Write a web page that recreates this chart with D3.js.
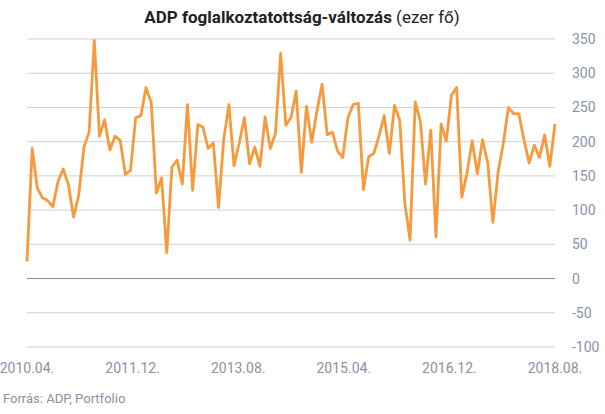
<!DOCTYPE html><html><head><meta charset="utf-8"><script src="https://cdn.jsdelivr.net/npm/d3@7"></script>
<style>body{margin:0;background:#fff}text{font-family:Roboto,sans-serif}</style></head><body><svg width="605" height="414"></svg><script>
const values=[25,190,132,118,114,105,142,160,137,90,122,192,214,348,208,232,188,208,202,152,158,235,238,279,257,125,147,38,163,173,138,254,129,225,221,190,198,104,
203,254,165,198,235,168,192,164,236,190,212,329,224,235,274,155,252,199,244,284,210,214,186,177,235,254,256,130,178,183,208,238,183,
253,231,110,56,258,229,138,217,61,226,201,268,279,119,154,201,153,203,169,82,155,197,250,241,241,203,169,195,177,210,164,226];
const xTickLabels=["2010.04.","2011.12.","2013.08.","2015.04.","2016.12.","2018.08."];
const yTicks=[-100,-50,0,50,100,150,200,250,300,350];
const svg=d3.select("svg");
const x=d3.scaleLinear().domain([0,values.length-1]).range([27,555]);
const y=d3.scaleLinear().domain([-100,350]).range([347,39]);
svg.selectAll(".g").data(yTicks).join("line").attr("x1",27).attr("x2",555).attr("y1",d=>y(d)).attr("y2",d=>y(d)).attr("stroke",d=>d===0?"#888":"#d0d0d0").attr("stroke-width",1);
svg.selectAll(".yl").data(yTicks).join("text").attr("x",572).attr("y",d=>y(d)+5).attr("font-size",14).attr("fill","#8793a6").text(d=>d);
const xp=d3.scaleLinear().domain([0,xTickLabels.length-1]).range([27,555]);
svg.selectAll(".xl").data(xTickLabels).join("text").attr("x",(d,i)=>xp(i)).attr("y",373).attr("text-anchor","middle").attr("font-size",14).attr("fill","#8793a6").text(d=>d);
svg.append("path").datum(values).attr("fill","none").attr("stroke","#f79a3e").attr("stroke-width",2.8).attr("stroke-linejoin","round")
 .attr("d",d3.line().x((d,i)=>x(i)).y(d=>y(d)));
const t=svg.append("text").attr("x",302).attr("y",23).attr("text-anchor","middle").attr("font-size",17).attr("fill","#222");
t.append("tspan").attr("font-weight","bold").text("ADP foglalkoztatottság-változás");
t.append("tspan").text(" (ezer fő)");
svg.append("text").attr("x",3).attr("y",403).attr("font-size",13).attr("fill","#8793a6").text("Forrás: ADP, Portfolio");
</script></body></html>
